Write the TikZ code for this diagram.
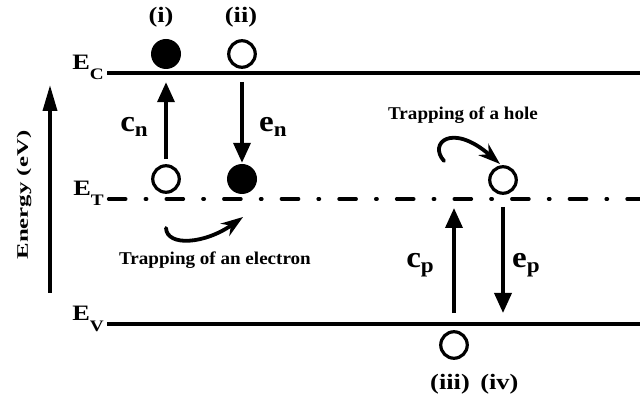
\documentclass[tikz,border=0pt]{standalone}
\usepackage{fontspec}
\setmainfont{Liberation Serif}
\usetikzlibrary{arrows.meta,positioning}

\newcommand{\lvlname}[2]{#1\raisebox{-10pt}{\fontsize{16}{16}\selectfont #2}}
\newcommand{\ratename}[2]{#1\raisebox{-5pt}{\fontsize{21}{21}\selectfont #2}}

\begin{document}
\begin{tikzpicture}[
    x=1pt, y=-1pt,
    level/.style={line width=3.6pt},
    trapline/.style={level, line cap=round,
      dash pattern=on 17pt off 19.7pt on 1.2pt off 19.7pt, dash phase=55.9pt},
    electron/.style={circle, fill, inner sep=0pt, minimum size=30pt},
    hole/.style={circle, draw, line width=3.2pt, inner sep=0pt, minimum size=26.5pt},
    flow/.style={-{Triangle[length=20pt, width=17pt]}, line width=3.6pt},
    swing/.style={-{Stealth[length=22pt, width=15pt]}, line width=3.8pt, line cap=round},
    lvllbl/.style={font=\fontsize{22}{22}\selectfont\bfseries, inner sep=0pt, xscale=1.2},
    ratelbl/.style={font=\fontsize{30}{30}\selectfont\bfseries, inner sep=0pt, xscale=1.1},
    caselbl/.style={font=\fontsize{22}{22}\selectfont\bfseries, inner sep=0pt, xscale=1.2},
    note/.style={font=\fontsize{18}{18}\selectfont\bfseries, inner sep=0pt, xscale=1.06},
    axislbl/.style={font=\fontsize{16}{16}\selectfont\bfseries, inner sep=0pt, xscale=1.55}
  ]
  \useasboundingbox (0,0) rectangle (640,403);

  % energy levels
  \coordinate (ECl) at (107,73);  \coordinate (ECr) at (640,73);
  \coordinate (ETl) at (107,199); \coordinate (ETr) at (640,199);
  \coordinate (EVl) at (107,324); \coordinate (EVr) at (640,324);
  \draw[level] (ECl) -- (ECr);
  \draw[trapline] (ETl) -- (ETr);
  \draw[level] (EVl) -- (EVr);
  \node[lvllbl, anchor=base east] (lEC) at (104,70) {\lvlname{E}{C}};
  \node[lvllbl, anchor=base east] (lET) at (104,196) {\lvlname{E}{T}};
  \node[lvllbl, anchor=base east] (lEV) at (104,321) {\lvlname{E}{V}};

  % energy axis
  \coordinate (enBot) at (50,293);
  \coordinate (enTop) at (50,85);
  \draw[-{Triangle[length=26pt, width=14pt]}, line width=3.6pt] (enBot) -- (enTop);
  \node[rotate=90, axislbl] (lEn) at (24,195) {Energy (eV)};

  % carriers
  \node[electron] (eI) at (166,54) {};
  \node[hole] (hII) at (242,54) {};
  \node[hole] (tO) at (166,179) {};
  \node[electron] (tF) at (242,179) {};
  \node[hole] (tH) at (503,180) {};
  \node[hole] (hIII) at (454,345) {};

  \node[caselbl, anchor=base] (cI) at (161,23) {(i)};
  \node[caselbl, anchor=base] (cII) at (241,23) {(ii)};
  \node[caselbl, anchor=base] (cIII) at (450,389) {(iii)};
  \node[caselbl, base right=10pt of cIII] (cIV) {(iv)};

  % capture and emission
  \draw[flow, shorten <=5pt, shorten >=13pt] (tO) -- (eI);
  \draw[flow, shorten <=13pt, shorten >=1pt] (hII) -- (tF);
  \draw[flow, shorten <=17pt, shorten >=9pt] (hIII.north) -- (hIII.north |- ETl);
  \draw[flow, shorten <=12pt, shorten >=11pt] (tH.south) -- (tH.south |- EVl);
  \node[ratelbl, anchor=base east] (rCn) at (148,132) {\ratename{c}{n}};
  \node[ratelbl, anchor=base west] (rEn) at (259,132) {\ratename{e}{n}};
  \node[ratelbl, anchor=base east] (rCp) at (434,268) {\ratename{c}{p}};
  \node[ratelbl, anchor=base west] (rEp) at (512,268) {\ratename{e}{p}};

  % trapping
  \coordinate (swEs) at (166,228); \coordinate (swEe) at (243,217);
  \draw[swing] (swEs) .. controls (167,247) and (205,244) .. (swEe);
  \node[note, anchor=base] (nElec) at (215,265) {Trapping of an electron};
  \coordinate (swHs) at (444,161); \coordinate (swHe) at (500,164);
  \draw[swing] (swHs) .. controls (428,143) and (452,122) .. (swHe);
  \node[note, anchor=base] (nHole) at (463,120) {Trapping of a hole};
\end{tikzpicture}
\end{document}
